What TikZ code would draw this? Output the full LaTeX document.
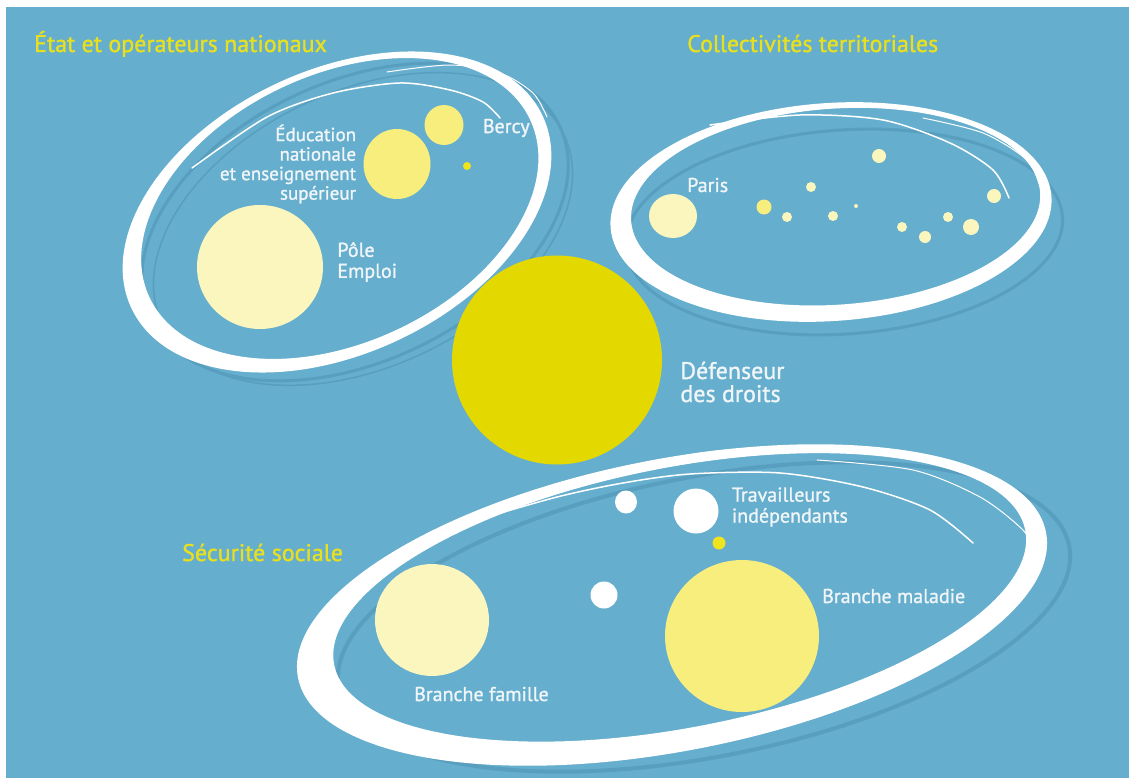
\documentclass[tikz,border=0pt]{standalone}
\usepackage{fontspec}
\setmainfont{PT Sans}[UprightFeatures={FakeBold=1.2}]
\usetikzlibrary{positioning}
\usetikzlibrary{shapes.geometric}
\definecolor{fond}{RGB}{101,174,206}
\definecolor{ombre}{RGB}{88,158,190}
\definecolor{jaunetitre}{RGB}{232,224,30}
\definecolor{jaune}{RGB}{227,216,0}
\definecolor{jauneclair}{RGB}{248,238,125}
\definecolor{creme}{RGB}{251,245,190}
\definecolor{vif}{RGB}{240,228,30}
\definecolor{texte}{RGB}{240,245,248}
\tikzstyle{bulle} = [ellipse, inner sep=0pt, draw=none]
\tikzstyle{etiquette} = [text=texte, inner sep=0pt, font=\fontsize{20}{21}\selectfont]
\tikzstyle{titre} = [text=jaunetitre, inner sep=0pt, anchor=base west, font=\fontsize{24}{26}\selectfont]
\tikzstyle{anneau} = [fill=white, even odd rule]
\tikzstyle{ombrage} = [draw=ombre, line width=3pt]
\tikzstyle{trait} = [draw=white, line width=1.5pt, line cap=round]

\begin{document}
\begin{tikzpicture}[x=1pt, y=-1pt, node distance=14pt]
        \useasboundingbox (0,0) rectangle (1129,778);
        \fill[white] (0,0) rectangle (1129,778);
        \fill[fond] (6,7) rectangle (1129,778);

        % ombres
        \begin{scope}[shift={(355,222)}, rotate=25]
            \draw[ombrage] (0,0) ellipse [x radius=226, y radius=140];
        \end{scope}
        \begin{scope}[shift={(363,229)}, rotate=25]
            \draw[ombrage, line width=1.5pt] (0,0) ellipse [x radius=222, y radius=138];
        \end{scope}
        \begin{scope}[shift={(844,232)}, rotate=4]
            \draw[ombrage] (0,0) ellipse [x radius=219, y radius=102];
        \end{scope}
        \begin{scope}[shift={(704,617)}, rotate=11]
            \draw[ombrage, line width=4pt] (0,0) ellipse [x radius=372, y radius=140];
        \end{scope}

        % anneaux
        \begin{scope}[shift={(337,212)}, rotate=25]
            \fill[anneau] (0,0) ellipse [x radius=227, y radius=142] (4,-2) ellipse [x radius=210, y radius=134];
        \end{scope}
        \begin{scope}[shift={(831,212)}, rotate=4]
            \fill[anneau] (0,0) ellipse [x radius=221, y radius=109] (5,-5) ellipse [x radius=205, y radius=98];
        \end{scope}
        \begin{scope}[shift={(672,605)}, rotate=11]
            \fill[anneau] (0,0) ellipse [x radius=381, y radius=146] (9,-6) ellipse [x radius=352, y radius=130];
        \end{scope}
        \draw[trait] plot[smooth] coordinates {(192,168) (267,117) (333,93) (400,83) (450,90) (483,102) (500,118)};
        \draw[trait, line width=1pt] plot[smooth] coordinates {(387,72) (450,65) (500,73) (533,93) (547,117)};
        \draw[trait] plot[smooth] coordinates {(710,125) (800,115) (883,120) (950,143) (993,170) (1009,198)};
        \draw[trait, line width=1pt] plot[smooth] coordinates {(923,118) (983,133) (1027,160) (1040,187)};
        \draw[trait] plot[smooth] coordinates {(477,520) (557,497) (623,483) (690,474) (780,473) (863,487) (930,510) (973,543)};
        \draw[trait, line width=1pt] plot[smooth] coordinates {(817,460) (913,470) (980,497) (1023,530) (1033,550)};
        \draw[trait] plot[smooth] coordinates {(470,525) (560,485) (690,455) (760,448)};

        % titres
        \node[titre] (etat) at (34,52) {État et opérateurs nationaux};
        \node[titre] (collectivites) at (687,52) {Collectivités territoriales};
        \node[titre] (secu) at (182,561) {Sécurité sociale};

        % Etat
        \node[bulle, fill=creme, minimum width=126pt, minimum height=124pt] (pole) at (260,267) {};
        \node[bulle, fill=jauneclair, minimum width=67pt, minimum height=70pt] (educ) at (397,164) {};
        \node[bulle, fill=jauneclair, minimum width=39pt, minimum height=40pt] (bercy) at (444,125) {};
        \node[bulle, fill=vif, minimum width=8pt, minimum height=8pt] (etatpoint) at (467,166) {};
        \node[etiquette, align=right, left=7pt of educ, font=\fontsize{19}{19.5}\selectfont] {Éducation\\nationale\\et enseignement\\supérieur};
        \node[etiquette, right=19pt of bercy, yshift=-3pt] {Bercy};
        \node[etiquette, align=left, right=of pole, yshift=5pt] {Pôle\\Emploi};

        % Defenseur
        \node[bulle, fill=jaune, minimum width=210pt, minimum height=209pt] (defenseur) at (557,360) {};
        \node[etiquette, align=left, right=18pt of defenseur, yshift=-22pt, font=\fontsize{24}{23}\selectfont] {Défenseur\\des droits};

        % Collectivites
        \node[bulle, fill=creme, minimum width=48pt, minimum height=44pt] (paris) at (673,216) {};
        \node[etiquette, anchor=base west] at (687,192) {Paris};
        \node[bulle, fill=creme, minimum size=14pt] (ville1) at (879,156) {};
        \node[bulle, fill=creme, minimum size=10pt] (ville2) at (811,187) {};
        \node[bulle, fill=jauneclair, minimum size=15pt] (ville3) at (764,207) {};
        \node[bulle, fill=creme, minimum size=10pt] (ville4) at (787,217) {};
        \node[bulle, fill=creme, minimum size=10pt] (ville5) at (833,216) {};
        \node[bulle, fill=creme, minimum size=4pt] (ville6) at (856,206) {};
        \node[bulle, fill=creme, minimum size=10pt] (ville7) at (902,227) {};
        \node[bulle, fill=creme, minimum size=12pt] (ville8) at (925,237) {};
        \node[bulle, fill=creme, minimum size=10pt] (ville9) at (948,217) {};
        \node[bulle, fill=creme, minimum size=16pt] (ville10) at (971,227) {};
        \node[bulle, fill=creme, minimum size=14pt] (ville11) at (994,196) {};

        % Securite sociale
        \node[bulle, fill=creme, minimum width=114pt, minimum height=112pt] (famille) at (432,620) {};
        \node[bulle, fill=jauneclair, minimum width=154pt, minimum height=152pt] (maladie) at (742,636) {};
        \node[bulle, fill=white, minimum width=45pt, minimum height=45pt] (travail) at (696,511) {};
        \node[bulle, fill=white, minimum width=22pt, minimum height=23pt] (caisse1) at (626,502) {};
        \node[bulle, fill=white, minimum width=27pt, minimum height=27pt] (caisse2) at (604,595) {};
        \node[bulle, fill=vif, minimum size=13pt] (secupoint) at (719,543) {};
        \node[etiquette, align=left, right=13pt of travail, yshift=4pt] {Travailleurs\\indépendants};
        \node[etiquette, anchor=base west] at (822,603) {Branche maladie};
        \node[etiquette, anchor=base west] at (414,701) {Branche famille};
\end{tikzpicture}
\end{document}
